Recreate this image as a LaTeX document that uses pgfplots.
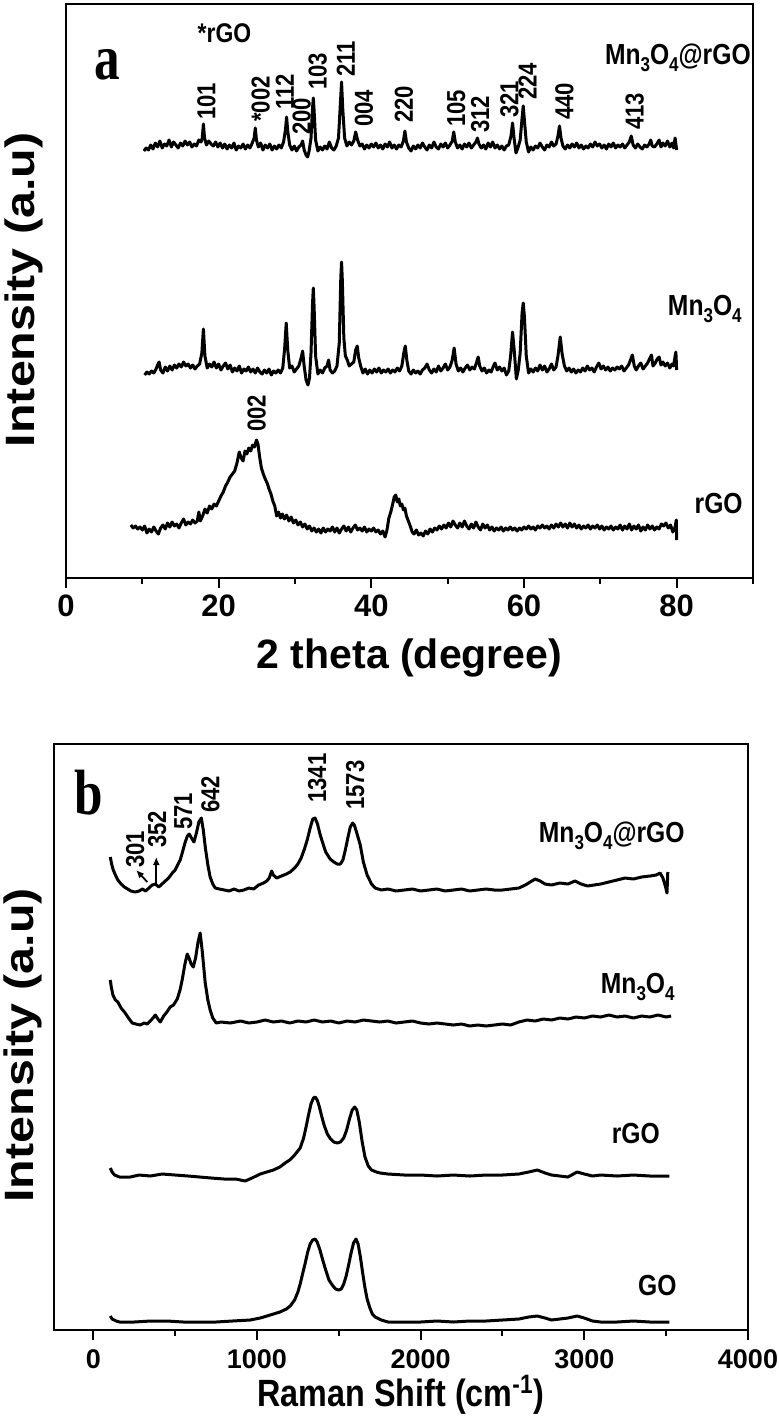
\documentclass[border=0pt]{standalone}
\usepackage{fontspec}
\setmainfont{Liberation Sans}
\newfontfamily\narrow[FakeStretch=0.85]{Liberation Sans}
\newfontfamily\wide[FakeStretch=1.18]{Liberation Sans}
\newfontfamily\serifb[FakeStretch=0.8]{Liberation Serif}
\usepackage{pgfplots}
\pgfplotsset{compat=1.18}
\usetikzlibrary{arrows.meta}

\newcommand\sub[1]{\raisebox{-3.5pt}{\fontsize{10}{10}\selectfont #1}}
\pgfplotsset{
  spec/.style={
    scale only axis, clip=false,
    axis line style={line width=1pt},
    every tick/.style={black, line width=1pt},
    ytick=\empty, xtick pos=bottom, tick align=outside,
    major tick length=5pt, minor tick length=3pt,
    /pgf/number format/assume math mode=true,
    /pgf/number format/1000 sep={},
    label style={font=\bfseries\fontsize{20.5}{20.5}\selectfont},
    ylabel style={font=\wide\bfseries\fontsize{20.5}{20.5}\selectfont},
  },
  trace/.style={black, line width=1.5pt, line join=round, no markers},
}
\tikzset{
  pk/.style={rotate=90, anchor=west, inner sep=0pt, font=\narrow\bfseries\fontsize{13}{13}\selectfont},
  nm/.style={anchor=base east, inner sep=0pt, font=\narrow\bfseries\fontsize{14.5}{14.5}\selectfont},
}

\begin{document}
\begin{tikzpicture}
\path[use as bounding box] (0,0) rectangle (389.5pt,-709pt);

% ---------------- (a) XRD ----------------
\begin{axis}[spec, at={(33pt,-289pt)}, anchor=south west,
  width=343.5pt, height=287pt,
  xmin=0, xmax=90, ymin=0, ymax=574,
  xtick={0,20,...,80}, minor xtick={10,30,...,90},
  xticklabel style={font=\bfseries\fontsize{15.5}{15.5}\selectfont},
  xlabel={2 theta (degree)}, ylabel={Intensity (a.u)},
  xlabel style={at={(axis description cs:0.5,-0.157)}, anchor=base},
  ylabel style={at={(axis description cs:-0.062,0.502)}, anchor=center},
]
% Mn3O4@rGO
\addplot[trace] coordinates {
(10.2,427)(10.5,430)(10.8,428)(11.1,433)(11.4,429)(11.7,435)(12.0,431)(12.3,437)(12.6,430)(12.9,434)
(13.2,432)(13.5,438)(13.8,431)(14.1,436)(14.4,433)(14.7,430)(15.0,435)(15.3,432)(15.6,437)(15.9,433)
(16.2,436)(16.5,431)(16.8,434)(17.1,432)(17.4,438)(17.7,436)(17.85,440)(18.0,454)(18.15,440)(18.4,433)
(18.7,437)(19.0,434)(19.3,432)(19.6,436)(19.9,431)(20.2,435)(20.5,430)(20.8,434)(21.1,429)(21.4,433)
(21.7,430)(22.0,435)(22.3,428)(22.6,432)(22.9,430)(23.2,434)(23.5,429)(23.8,433)(24.1,430)(24.4,435)
(24.65,440)(24.8,450)(24.95,438)(25.2,431)(25.5,435)(25.8,428)(26.1,433)(26.4,430)(26.7,434)(27.0,428)
(27.3,432)(27.6,429)(27.9,433)(28.2,430)(28.5,436)(28.75,448)(28.9,461)(29.05,447)(29.3,433)(29.6,428)
(29.9,432)(30.2,427)(30.5,431)(30.8,433)(31.0,437)(31.2,428)(31.45,423)(31.65,421)(31.85,427)(32.1,440)
(32.3,470)(32.4,480)(32.5,468)(32.7,438)(33.0,427)(33.3,431)(33.6,428)(33.9,432)(34.2,429)(34.5,436)
(34.8,430)(35.1,428)(35.4,432)(35.7,440)(35.95,475)(36.1,496)(36.25,470)(36.5,440)(36.8,432)(37.1,436)
(37.4,433)(37.7,437)(37.95,446)(38.2,438)(38.5,432)(38.8,434)(39.1,429)(39.4,433)(39.7,430)(40.0,434)
(40.3,431)(40.6,435)(40.9,430)(41.2,433)(41.5,429)(41.8,434)(42.1,431)(42.4,436)(42.7,430)(43.0,433)
(43.3,429)(43.6,433)(43.9,431)(44.2,437)(44.4,447)(44.6,436)(44.9,430)(45.2,427)(45.5,432)(45.8,429)
(46.1,433)(46.4,430)(46.7,435)(47.0,431)(47.3,428)(47.6,433)(47.9,430)(48.2,436)(48.5,431)(48.8,429)
(49.1,434)(49.4,431)(49.7,435)(50.0,430)(50.3,433)(50.6,437)(50.8,446)(51.0,436)(51.3,430)(51.6,433)
(51.9,429)(52.2,434)(52.5,431)(52.8,435)(53.1,430)(53.4,433)(53.7,436)(53.9,440)(54.1,434)(54.4,430)
(54.7,433)(55.0,429)(55.3,435)(55.6,431)(55.9,436)(56.2,430)(56.5,433)(56.8,429)(57.1,432)(57.4,428)
(57.7,432)(58.0,433)(58.3,442)(58.5,455)(58.7,440)(58.95,425)(59.2,430)(59.5,438)(59.75,460)(59.9,472)
(60.05,458)(60.3,436)(60.6,426)(60.9,431)(61.2,428)(61.5,432)(61.8,430)(62.1,435)(62.4,431)(62.7,428)
(63.0,433)(63.3,431)(63.6,436)(63.9,432)(64.2,434)(64.45,442)(64.65,452)(64.85,440)(65.1,432)(65.4,429)
(65.7,433)(66.0,430)(66.3,434)(66.6,431)(66.9,435)(67.2,430)(67.5,433)(67.8,429)(68.1,432)(68.4,430)
(68.7,434)(69.0,431)(69.3,436)(69.6,432)(69.9,434)(70.2,430)(70.5,433)(70.8,429)(71.1,434)(71.4,431)
(71.7,435)(72.0,430)(72.3,433)(72.6,431)(72.9,434)(73.2,430)(73.5,433)(73.8,436)(74.05,442)(74.3,433)
(74.6,430)(74.9,434)(75.2,431)(75.5,429)(75.8,433)(76.1,431)(76.4,434)(76.6,438)(76.8,432)(77.1,431)
(77.4,434)(77.7,438)(77.95,431)(78.2,435)(78.5,432)(78.8,437)(79.1,431)(79.4,435)(79.6,430)(79.8,440)
(80.0,428)
};
% Mn3O4
\addplot[trace] coordinates {
(10.3,203)(10.6,206)(10.9,204)(11.2,207)(11.5,205)(11.8,209)(12.0,213)(12.2,216)(12.4,208)(12.7,205)
(13.0,211)(13.3,207)(13.6,212)(13.9,208)(14.2,213)(14.5,210)(14.8,214)(15.1,211)(15.4,216)(15.7,212)
(16.0,214)(16.3,210)(16.6,213)(16.9,209)(17.2,212)(17.5,214)(17.8,225)(18.0,249)(18.2,222)(18.5,210)
(18.8,214)(19.1,211)(19.4,216)(19.7,210)(20.0,214)(20.3,208)(20.6,212)(20.9,215)(21.2,209)(21.5,213)
(21.8,206)(22.1,210)(22.4,207)(22.7,212)(23.0,205)(23.3,209)(23.6,207)(23.9,211)(24.2,206)(24.5,209)
(24.8,205)(25.1,210)(25.4,206)(25.7,204)(26.0,208)(26.3,205)(26.6,209)(26.9,203)(27.2,207)(27.5,205)
(27.8,208)(28.1,205)(28.4,210)(28.65,230)(28.85,255)(29.05,228)(29.3,210)(29.6,212)(29.9,206)(30.2,209)
(30.5,212)(30.8,220)(31.0,227)(31.2,212)(31.45,198)(31.7,193)(31.9,200)(32.1,225)(32.3,275)(32.4,290)
(32.5,272)(32.7,222)(33.0,204)(33.3,208)(33.6,205)(33.9,210)(34.2,212)(34.4,218)(34.6,208)(34.9,205)
(35.2,207)(35.5,212)(35.8,235)(36.0,300)(36.1,316)(36.2,298)(36.4,240)(36.6,222)(36.85,218)(37.1,212)
(37.4,214)(37.7,216)(37.95,228)(38.15,232)(38.35,220)(38.6,212)(38.9,205)(39.2,209)(39.5,204)(39.8,208)
(40.1,205)(40.4,209)(40.7,206)(41.0,210)(41.3,205)(41.6,208)(41.9,206)(42.2,209)(42.5,205)(42.8,208)
(43.1,206)(43.4,210)(43.7,207)(44.0,212)(44.25,225)(44.45,232)(44.65,218)(44.9,207)(45.2,204)(45.5,208)
(45.8,205)(46.1,207)(46.4,204)(46.7,208)(47.0,210)(47.3,214)(47.6,208)(47.9,205)(48.2,209)(48.5,206)
(48.8,212)(49.1,207)(49.4,210)(49.7,214)(50.0,208)(50.3,211)(50.6,218)(50.85,230)(51.1,214)(51.4,207)
(51.7,210)(52.0,206)(52.3,210)(52.6,213)(52.9,208)(53.2,211)(53.5,209)(53.8,216)(54.0,221)(54.2,212)
(54.5,207)(54.8,210)(55.1,205)(55.4,208)(55.7,206)(56.0,212)(56.2,215)(56.5,208)(56.8,211)(57.1,207)
(57.4,210)(57.7,203)(58.0,207)(58.25,222)(58.5,246)(58.75,225)(59.0,199)(59.25,208)(59.5,225)(59.75,265)
(59.9,275)(60.05,262)(60.3,222)(60.6,205)(60.9,209)(61.2,206)(61.5,210)(61.8,207)(62.1,213)(62.4,208)
(62.7,212)(63.0,206)(63.3,209)(63.6,214)(63.9,208)(64.2,211)(64.45,222)(64.75,241)(65.0,224)(65.3,212)
(65.6,207)(65.9,210)(66.2,206)(66.5,209)(66.8,205)(67.1,208)(67.4,206)(67.7,210)(68.0,207)(68.3,212)
(68.6,208)(68.9,210)(69.2,206)(69.5,211)(69.8,215)(70.1,209)(70.4,212)(70.7,208)(71.0,211)(71.3,207)
(71.6,210)(71.9,208)(72.2,211)(72.5,209)(72.8,212)(73.1,207)(73.4,210)(73.7,213)(73.95,218)(74.2,223)
(74.45,212)(74.7,208)(75.0,212)(75.3,215)(75.6,209)(75.9,212)(76.2,215)(76.5,220)(76.7,223)(76.9,212)
(77.2,215)(77.45,219)(77.7,221)(77.95,213)(78.2,216)(78.5,212)(78.8,215)(79.1,210)(79.4,214)(79.6,212)
(79.8,222)(79.9,226)(80.0,208)
};
% rGO
\addplot[trace] coordinates {
(8.5,53)(8.8,50)(9.1,52)(9.4,49)(9.7,51)(10.0,48)(10.3,52)(10.6,45)(10.9,49)(11.2,46)
(11.5,51)(11.8,47)(12.1,44)(12.4,50)(12.7,53)(13.0,49)(13.3,55)(13.6,51)(13.9,56)(14.2,52)
(14.5,54)(14.8,50)(15.1,55)(15.4,59)(15.7,53)(16.0,56)(16.3,54)(16.6,58)(16.9,55)(17.2,57)
(17.4,66)(17.6,57)(17.9,62)(18.2,69)(18.5,65)(18.8,72)(19.1,69)(19.4,74)(19.7,72)(20.0,77)
(20.3,82)(20.6,86)(20.9,92)(21.2,96)(21.5,101)(21.8,104)(22.1,107)(22.4,115)(22.7,126)(22.95,120)
(23.2,117)(23.45,127)(23.7,124)(23.95,130)(24.2,127)(24.45,133)(24.7,131)(24.95,138)(25.15,134)(25.35,122)
(25.6,110)(25.85,104)(26.1,99)(26.35,95)(26.6,89)(26.85,84)(27.1,77)(27.35,72)(27.6,62)(27.85,66)
(28.1,60)(28.35,64)(28.6,59)(28.9,63)(29.2,57)(29.5,61)(29.8,55)(30.1,58)(30.4,53)(30.7,56)
(31.0,51)(31.3,54)(31.6,49)(31.9,52)(32.2,47)(32.5,50)(32.8,46)(33.1,49)(33.4,45)(33.7,50)
(34.0,46)(34.3,49)(34.6,47)(34.9,51)(35.2,46)(35.5,50)(35.8,45)(36.1,49)(36.4,52)(36.7,47)
(37.0,51)(37.3,46)(37.6,50)(37.9,53)(38.2,48)(38.5,50)(38.8,47)(39.1,51)(39.4,46)(39.7,49)
(40.0,47)(40.3,50)(40.6,46)(40.9,48)(41.2,44)(41.5,47)(41.8,41)(42.05,48)(42.3,60)(42.55,66)
(42.8,74)(43.0,81)(43.2,83)(43.4,76)(43.6,79)(43.8,72)(44.0,74)(44.2,68)(44.4,70)(44.6,62)
(44.85,57)(45.1,52)(45.35,46)(45.6,44)(45.9,48)(46.2,43)(46.5,45)(46.8,42)(47.1,47)(47.4,44)
(47.7,49)(48.0,46)(48.3,50)(48.6,48)(48.9,52)(49.2,49)(49.5,53)(49.8,50)(50.1,55)(50.4,51)
(50.7,57)(51.0,53)(51.3,50)(51.6,55)(51.9,51)(52.2,57)(52.5,52)(52.8,49)(53.1,54)(53.4,50)
(53.7,56)(54.0,51)(54.3,48)(54.6,54)(54.9,50)(55.2,53)(55.5,48)(55.8,51)(56.1,47)(56.4,50)
(56.7,48)(57.0,51)(57.3,47)(57.6,50)(57.9,48)(58.2,51)(58.5,48)(58.8,50)(59.1,47)(59.4,50)
(59.7,48)(60.0,51)(60.3,49)(60.6,52)(60.9,49)(61.2,51)(61.5,48)(61.8,52)(62.1,50)(62.4,53)
(62.7,50)(63.0,52)(63.3,49)(63.6,53)(63.9,50)(64.2,54)(64.5,51)(64.8,55)(65.1,51)(65.4,54)
(65.7,50)(66.0,55)(66.3,51)(66.6,54)(66.9,50)(67.2,53)(67.5,49)(67.8,52)(68.1,50)(68.4,53)
(68.7,49)(69.0,52)(69.3,50)(69.6,53)(69.9,49)(70.2,52)(70.5,48)(70.8,51)(71.1,49)(71.4,52)
(71.7,48)(72.0,51)(72.3,49)(72.6,53)(72.9,48)(73.2,52)(73.5,49)(73.8,54)(74.1,48)(74.4,52)
(74.7,49)(75.0,53)(75.3,47)(75.6,51)(75.9,48)(76.2,53)(76.5,49)(76.8,52)(77.1,48)(77.4,51)
(77.7,49)(78.0,54)(78.3,52)(78.6,55)(78.9,50)(79.2,53)(79.5,46)(79.8,51)(79.95,58)(80.0,38)
};
% labels
\node[inner sep=0pt, font=\serifb\bfseries\fontsize{32}{32}\selectfont] at (5.39,513) {a};
\node[anchor=center, inner sep=0pt, font=\narrow\bfseries\fontsize{13.5}{13.5}\selectfont] at (20.76,545) {*rGO};
\node[nm] at (89.75,513) {Mn\sub{3}O\sub{4}@rGO};
\node[nm] at (88.57,263) {Mn\sub{3}O\sub{4}};
\node[nm] at (88.7,65) {rGO};
\node[pk] at (18.40,458) {101};
\node[pk] at (25.49,456) {*002};
\node[pk] at (28.65,468) {112};
\node[pk] at (30.88,443) {200};
\node[pk] at (32.98,488) {103};
\node[pk] at (36.66,501) {211};
\node[pk] at (39.03,451) {004};
\node[pk] at (44.28,455) {220};
\node[pk] at (51.12,451) {105};
\node[pk] at (54.27,445) {312};
\node[pk] at (58.08,460) {321};
\node[pk] at (60.45,478) {224};
\node[pk] at (65.31,458) {440};
\node[pk] at (74.51,448) {413};
\node[pk] at (24.97,146) {002};
\end{axis}

% ---------------- (b) Raman ----------------
\begin{axis}[spec, at={(27pt,-665pt)}, anchor=south west,
  width=347pt, height=293pt,
  xmin=-240, xmax=4000, ymin=0, ymax=586,
  xtick={0,1000,...,4000}, minor xtick={500,1500,...,3500},
  xticklabel style={font=\bfseries\fontsize{13.5}{13.5}\selectfont, yshift=-1.5pt},
  xlabel={Raman Shift (cm\textsuperscript{-1})}, ylabel={Intensity (a.u)},
  xlabel style={at={(axis description cs:0.5,-0.1297)}, anchor=base, font=\narrow\bfseries\fontsize{19}{19}\selectfont},
  ylabel style={at={(axis description cs:-0.045,0.486)}, anchor=center},
]
% Mn3O4@rGO
\addplot[trace] coordinates {
(104,473)(112,466)(120,461)(135,455)(150,450)(170,446)(190,443)(210,441)(230,439)(256,438)
(280,439)(300,441)(320,439)(340,442)(360,445)(380,446)(400,443)(420,446)(440,449)(460,452)
(483,457)(500,460)(515,465)(531,470)(545,478)(560,487)(575,494)(586,496)(600,492)(615,488)
(630,497)(645,508)(660,512)(672,500)(685,482)(700,465)(714,453)(730,446)(745,442)(770,441)
(800,440)(830,439)(860,441)(890,439)(920,440)(950,442)(980,441)(1010,445)(1040,447)(1060,449)
(1075,452)(1090,459)(1100,455)(1120,452)(1150,454)(1180,456)(1203,458)(1230,462)(1250,466)(1270,472)
(1290,481)(1307,490)(1325,502)(1341,511)(1355,512)(1370,506)(1385,496)(1398,489)(1420,478)(1447,471)
(1470,468)(1490,466)(1510,466)(1525,470)(1540,480)(1555,492)(1570,503)(1585,507)(1595,505)(1610,497)
(1631,485)(1650,468)(1673,455)(1700,446)(1722,442)(1760,440)(1800,441)(1850,439)(1900,440)(1950,441)
(2000,439)(2050,440)(2100,441)(2150,439)(2200,440)(2250,441)(2300,439)(2350,440)(2400,441)(2450,440)
(2500,440)(2550,441)(2600,442)(2640,445)(2669,448)(2700,451)(2730,449)(2760,446)(2800,445)(2850,447)
(2900,446)(2943,449)(2980,446)(3020,444)(3060,445)(3100,446)(3150,448)(3200,450)(3249,452)(3300,451)
(3350,453)(3402,454)(3440,455)(3463,457)(3480,452)(3495,444)(3505,437)(3510,458)
};
% Mn3O4
\addplot[trace] coordinates {
(104,350)(110,343)(120,335)(135,330)(150,328)(170,322)(195,317)(215,312)(238,307)(260,306)
(287,305)(310,307)(330,306)(348,309)(365,312)(379,315)(395,311)(409,308)(430,314)(450,318)
(470,323)(490,325)(513,331)(530,340)(543,350)(560,366)(574,376)(585,372)(598,366)(611,363)
(625,372)(640,388)(653,397)(665,380)(684,347)(700,330)(714,320)(730,312)(751,307)(780,308)
(837,307)(900,309)(950,307)(1000,308)(1050,310)(1100,308)(1150,309)(1200,307)(1250,309)(1300,308)
(1350,310)(1400,308)(1450,309)(1500,307)(1550,309)(1600,308)(1650,310)(1700,309)(1750,308)(1800,309)
(1850,307)(1900,308)(1950,309)(2000,307)(2050,306)(2100,307)(2150,306)(2200,305)(2250,306)(2300,304)
(2350,305)(2400,304)(2450,305)(2500,306)(2550,305)(2600,308)(2650,310)(2700,309)(2750,311)(2800,310)
(2850,312)(2900,311)(2950,313)(3000,312)(3050,314)(3100,313)(3150,315)(3200,313)(3250,314)(3300,312)
(3350,314)(3400,313)(3450,315)(3500,313)(3530,314)
};
% rGO
\addplot[trace] coordinates {
(104,162)(115,158)(130,155)(160,153)(226,153)(280,155)(350,154)(420,156)(500,155)(580,154)
(650,153)(720,152)(800,151)(870,151)(928,149)(970,152)(1020,156)(1060,158)(1100,160)(1140,163)
(1172,167)(1200,170)(1230,175)(1264,182)(1285,192)(1300,203)(1315,215)(1330,226)(1345,232)(1356,233)
(1368,230)(1380,224)(1395,214)(1410,205)(1430,196)(1450,191)(1470,188)(1490,187)(1510,188)(1530,192)
(1548,200)(1565,211)(1582,220)(1597,223)(1610,220)(1625,208)(1643,188)(1660,173)(1680,164)(1700,160)
(1730,158)(1753,157)(1800,156)(1900,155)(2000,155)(2100,154)(2200,155)(2300,154)(2400,155)(2500,155)
(2600,156)(2660,158)(2713,160)(2760,157)(2800,155)(2850,154)(2900,153)(2956,158)(3000,156)(3050,154)
(3100,155)(3200,154)(3300,155)(3400,154)(3520,154)
};
% GO
\addplot[trace] coordinates {
(104,14)(115,11)(140,9)(160,8)(250,8)(350,9)(450,9)(550,8)(650,8)(750,8)
(850,9)(959,10)(1020,12)(1081,15)(1140,18)(1180,21)(1203,24)(1230,30)(1250,38)(1264,46)
(1280,57)(1295,67)(1310,78)(1325,86)(1340,90)(1355,91)(1368,88)(1385,80)(1400,71)(1420,60)
(1440,50)(1460,45)(1480,41)(1500,40)(1515,41)(1530,46)(1545,54)(1560,65)(1575,77)(1590,87)
(1605,91)(1618,86)(1632,73)(1645,58)(1660,42)(1673,31)(1690,22)(1705,16)(1722,13)(1760,10)
(1800,8)(1900,8)(2000,8)(2100,9)(2200,8)(2300,9)(2400,9)(2500,10)(2600,11)(2660,13)
(2713,14)(2760,12)(2800,10)(2850,11)(2900,12)(2956,14)(3000,12)(3050,9)(3100,8)(3200,8)
(3300,9)(3400,8)(3520,8)
};
\node[inner sep=0pt, font=\serifb\bfseries\fontsize{32}{32}\selectfont] at (-30,537) {b};
\node[pk] at (256,462) {301};
\node[pk] at (391,482) {352};
\node[pk] at (550,500) {571};
\node[pk] at (715,517) {642};
\node[pk] at (1368,527) {1341};
\node[pk] at (1600,520) {1573};
\draw[-{Latex[length=4pt,width=3.5pt]}, line width=0.9pt] (330,448) -- (262,460);
\draw[-{Latex[length=4pt,width=3.5pt]}, line width=0.9pt] (385,446) -- (385,473);
\node[nm] at (3615,488) {Mn\sub{3}O\sub{4}@rGO};
\node[nm] at (3554,337) {Mn\sub{3}O\sub{4}};
\node[nm] at (3463,187) {rGO};
\node[nm] at (3566,35) {GO};
\end{axis}
\end{tikzpicture}
\end{document}
